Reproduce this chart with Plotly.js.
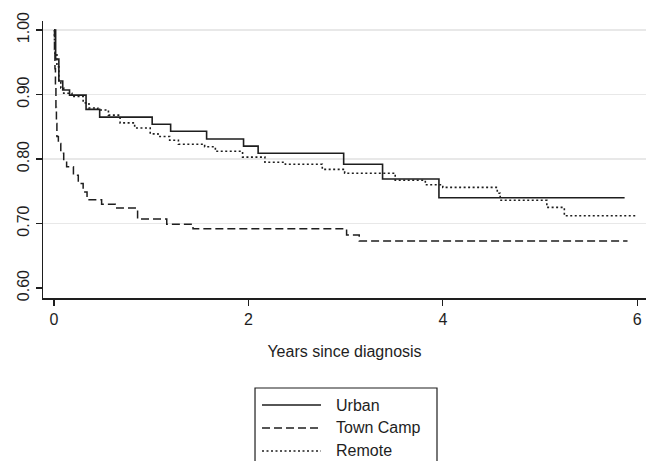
<!DOCTYPE html>
<html>
<head>
<meta charset="utf-8">
<script src="https://cdn.plot.ly/plotly-3.0.1.min.js"></script>
<style>html,body{margin:0;padding:0;background:#fff;}#chart{width:646px;height:461px;}</style>
</head>
<body>
<div id="chart"></div>
<script>
// Years since diagnosis (step change points) and survival proportions
var urbanT = [0, 0.017, 0.05, 0.09, 0.16, 0.33, 0.47, 1.01, 1.20, 1.57, 1.95, 2.10, 2.98, 3.38, 3.96, 5.87];
var urbanS = [1.0, 0.955, 0.921, 0.907, 0.899, 0.877, 0.865, 0.854, 0.843, 0.831, 0.820, 0.809, 0.792, 0.769, 0.740, 0.740];

var townT = [0, 0.005, 0.01, 0.015, 0.02, 0.025, 0.03, 0.045, 0.07, 0.1, 0.13, 0.2, 0.25, 0.3, 0.34, 0.49, 0.63, 0.86, 1.16, 1.43, 3.01, 3.14, 5.9];
var townS = [1.0, 0.97, 0.94, 0.91, 0.88, 0.855, 0.835, 0.824, 0.809, 0.798, 0.788, 0.775, 0.762, 0.749, 0.737, 0.730, 0.724, 0.707, 0.699, 0.692, 0.682, 0.673, 0.673];

var remoteT = [0, 0.005, 0.01, 0.03, 0.05, 0.07, 0.1, 0.185, 0.3, 0.36, 0.45, 0.56, 0.68, 0.83, 0.99, 1.07, 1.19, 1.28, 1.55, 1.66, 1.94, 2.17, 2.38, 2.76, 2.99, 3.51, 3.82, 4.00, 4.56, 4.59, 5.07, 5.25, 5.99];
var remoteS = [1.0, 0.98, 0.964, 0.943, 0.922, 0.91, 0.902, 0.897, 0.887, 0.879, 0.876, 0.868, 0.856, 0.848, 0.839, 0.835, 0.829, 0.823, 0.819, 0.812, 0.803, 0.795, 0.792, 0.784, 0.778, 0.767, 0.760, 0.756, 0.747, 0.736, 0.725, 0.712, 0.712];

var seriesNames = ["Urban", "Town Camp", "Remote"];
var xTickVals = [0, 2, 4, 6];
var xTickText = ["0", "2", "4", "6"];
var yTickVals = [0.6, 0.7, 0.8, 0.9, 1.0];
var yTickText = ["0.60", "0.70", "0.80", "0.90", "1.00"];
var yGridVals = [0.7, 0.8, 0.9, 1.0];

var FONT = "Liberation Sans, Arial, sans-serif";
var INK = "#1e1e1e";
var styles = [
  {color: INK, width: 1.6, dash: "solid"},
  {color: INK, width: 1.5, dash: "8px,4px"},
  {color: INK, width: 1.6, dash: "2px,2.5px"}
];

var traces = [
  {x: urbanT, y: urbanS, name: seriesNames[0], mode: "lines", line: Object.assign({shape: "hv"}, styles[0]), yaxis: "y"},
  {x: townT, y: townS, name: seriesNames[1], mode: "lines", line: Object.assign({shape: "hv"}, styles[1]), yaxis: "y"},
  {x: remoteT, y: remoteS, name: seriesNames[2], mode: "lines", line: Object.assign({shape: "hv"}, styles[2]), yaxis: "y2"}
];

var yRange = [0.5845, 1.014];

// custom legend box (long line samples, box cut by page edge as in the reference)
var legX0 = 0.3516, legX1 = 0.6534, legTop = -0.3249, legBot = -0.64;
var sampleX0 = 0.3632, sampleX1 = 0.461, textX = 0.4826;
var rowY = [-0.3863, -0.4693, -0.5523];
var shapes = [{type: "rect", xref: "paper", yref: "paper", x0: legX0, x1: legX1, y0: legBot, y1: legTop,
  line: {color: INK, width: 1.2}, fillcolor: "rgba(0,0,0,0)"}];
var annotations = [];
for (var i = 0; i < seriesNames.length; i++) {
  shapes.push({type: "line", xref: "paper", yref: "paper", x0: sampleX0, x1: sampleX1, y0: rowY[i], y1: rowY[i],
    line: {color: styles[i].color, width: styles[i].width, dash: styles[i].dash}});
  annotations.push({xref: "paper", yref: "paper", x: textX, y: rowY[i], xanchor: "left", yanchor: "middle",
    text: seriesNames[i], showarrow: false, font: {family: FONT, size: 16, color: INK}});
}

var layout = {
  width: 646, height: 461,
  margin: {l: 43, r: 0, t: 21, b: 163},
  paper_bgcolor: "#fff", plot_bgcolor: "#fff",
  showlegend: false,
  font: {family: FONT, size: 16, color: INK},
  xaxis: {
    range: [-0.113, 6.09], tickvals: xTickVals, ticktext: xTickText,
    showgrid: false, zeroline: false, showline: true, linecolor: INK, linewidth: 1.5,
    ticks: "outside", ticklen: 6, tickwidth: 1.2, tickcolor: INK,
    tickfont: {family: FONT, size: 16, color: INK},
    title: {text: "Years since diagnosis", font: {family: FONT, size: 16, color: INK}, standoff: 19}
  },
  yaxis: {
    range: yRange, tickvals: yTickVals, ticktext: yTickText, tickangle: -90,
    showgrid: false, zeroline: false, showline: true, linecolor: INK, linewidth: 1.5,
    ticks: "outside", ticklen: 6, tickwidth: 1.2, tickcolor: INK,
    tickfont: {family: FONT, size: 16, color: INK}
  },
  yaxis2: {
    range: yRange, overlaying: "y", side: "left", tickvals: yGridVals,
    showgrid: true, gridcolor: "#e8e8e8", gridwidth: 1.2,
    showticklabels: false, ticks: "", showline: false, zeroline: false
  },
  shapes: shapes,
  annotations: annotations
};

Plotly.newPlot("chart", traces, layout, {displayModeBar: false, staticPlot: true});
</script>
</body>
</html>
